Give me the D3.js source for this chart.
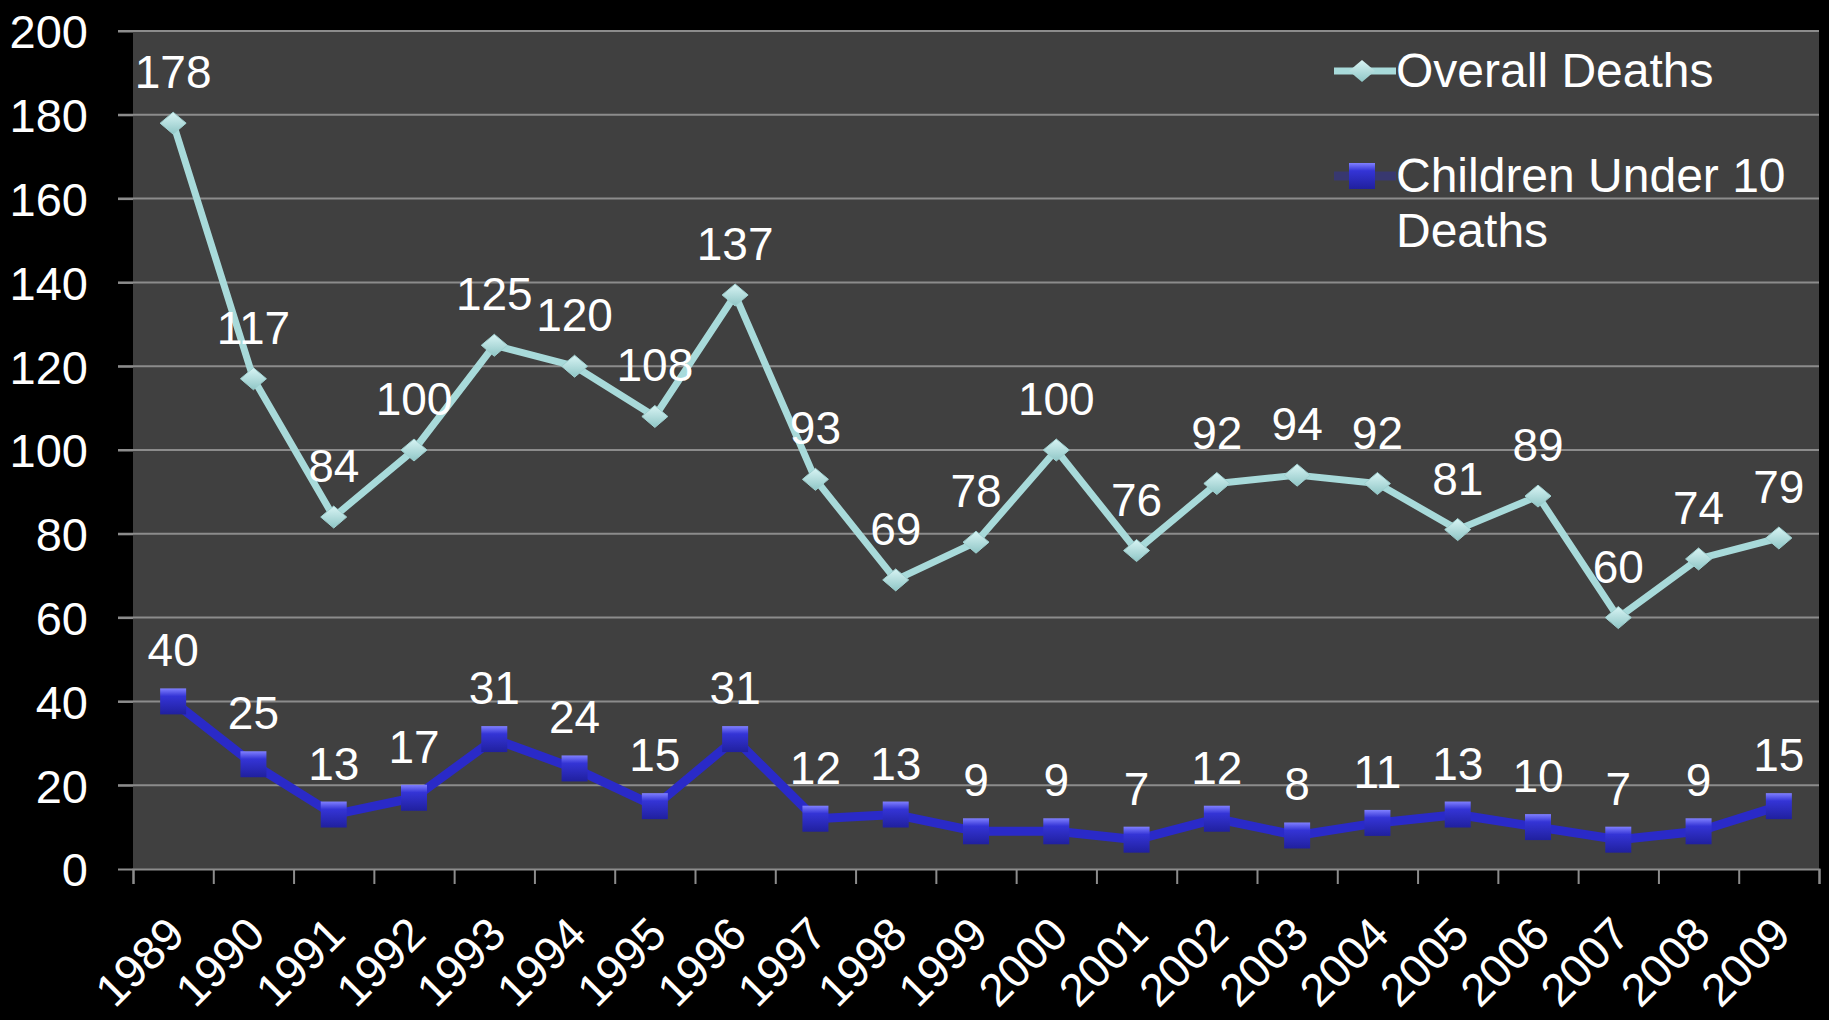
<!DOCTYPE html>
<html>
<head>
<meta charset="utf-8">
<script src="https://cdn.jsdelivr.net/npm/d3@7"></script>
<style>
  html, body { margin: 0; padding: 0; background: #000; }
  svg { display: block; }
  text { font-family: "Liberation Sans", Arial, sans-serif; fill: #fff; }
</style>
</head>
<body>
<div id="chart"></div>
<script>
const years = ["1989","1990","1991","1992","1993","1994","1995","1996","1997","1998","1999",
  "2000","2001","2002","2003","2004","2005","2006","2007","2008","2009"];
const overallDeaths = [178,117,84,100,125,120,108,137,93,69,78,100,76,92,94,92,81,89,60,74,79];
const childDeaths = [40,25,13,17,31,24,15,31,12,13,9,9,7,12,8,11,13,10,7,9,15];
const yTicks = [0,20,40,60,80,100,120,140,160,180,200];
const seriesNames = ["Overall Deaths", ["Children Under 10", "Deaths"]];

const width = 1829, height = 1020;
const margin = { top: 31, right: 10, bottom: 151, left: 133 };
const plotW = width - margin.left - margin.right;
const plotH = height - margin.top - margin.bottom;

const svg = d3.select("#chart").append("svg")
  .attr("width", width)
  .attr("height", height);

const defs = svg.append("defs");
const sqGrad = defs.append("linearGradient")
  .attr("id", "sqGrad").attr("x1", 0).attr("y1", 0).attr("x2", 0).attr("y2", 1);
sqGrad.append("stop").attr("offset", "0%").attr("stop-color", "#8080ff");
sqGrad.append("stop").attr("offset", "30%").attr("stop-color", "#3434d6");
sqGrad.append("stop").attr("offset", "100%").attr("stop-color", "#20209e");
const dmGrad = defs.append("linearGradient")
  .attr("id", "dmGrad").attr("x1", 0).attr("y1", 0).attr("x2", 0).attr("y2", 1);
dmGrad.append("stop").attr("offset", "0%").attr("stop-color", "#d8f4f4");
dmGrad.append("stop").attr("offset", "100%").attr("stop-color", "#8fc6c6");

const g = svg.append("g")
  .attr("transform", `translate(${margin.left},${margin.top})`);

const x = d3.scaleBand().domain(years).range([0, plotW]);
const y = d3.scaleLinear().domain([0, 200]).range([plotH, 0]);
const cx = (d) => x(d) + x.bandwidth() / 2;

// plot area
g.append("rect")
  .attr("width", plotW)
  .attr("height", plotH)
  .attr("fill", "#404040");

// gridlines
g.append("g")
  .selectAll("line")
  .data(yTicks.filter((d) => d > 0))
  .join("line")
  .attr("x1", -15)
  .attr("x2", plotW)
  .attr("y1", (d) => y(d))
  .attr("y2", (d) => y(d))
  .attr("stroke", "#8c8c8c")
  .attr("stroke-width", 2);

// y axis
const yAxis = g.append("g")
  .call(d3.axisLeft(y).tickValues(yTicks).tickSize(15).tickPadding(30));
yAxis.select(".domain").remove();
yAxis.selectAll(".tick line").attr("stroke", "#8c8c8c").attr("stroke-width", 2);
yAxis.selectAll(".tick text")
  .attr("fill", "#fff")
  .style("font-size", "47px")
  .attr("dy", "0.36em");

// x axis boundary ticks
const xEdge = d3.scaleLinear().domain([0, years.length]).range([0, plotW]);
const xTickAxis = g.append("g")
  .attr("transform", `translate(0,${plotH})`)
  .call(d3.axisBottom(xEdge).tickValues(d3.range(0, years.length + 1)).tickSize(15).tickFormat(""));
xTickAxis.select(".domain").attr("stroke", "#8c8c8c").attr("stroke-width", 2);
xTickAxis.selectAll(".tick line").attr("stroke", "#8c8c8c").attr("stroke-width", 2);

// x axis labels
const xAxis = g.append("g")
  .attr("transform", `translate(0,${plotH})`)
  .call(d3.axisBottom(x).tickSize(0).tickPadding(0));
xAxis.select(".domain").remove();
xAxis.selectAll(".tick text")
  .attr("fill", "#fff")
  .style("font-size", "46px")
  .attr("y", 0)
  .attr("dy", 0)
  .attr("text-anchor", "end")
  .attr("transform", "translate(14,68) rotate(-45)");

// lines
const line = (vals) => d3.line()
  .x((d, i) => cx(years[i]))
  .y((d) => y(d))(vals);

g.append("path")
  .attr("d", line(overallDeaths))
  .attr("fill", "none")
  .attr("stroke", "#a8dada")
  .attr("stroke-width", 7)
  .attr("stroke-linejoin", "round");

g.append("path")
  .attr("d", line(childDeaths))
  .attr("fill", "none")
  .attr("stroke", "#2a2ac8")
  .attr("stroke-width", 9)
  .attr("stroke-linejoin", "round");

// markers
const diamond = (w, h) => `M0,${-h / 2}L${w / 2},0L0,${h / 2}L${-w / 2},0Z`;

g.append("g")
  .selectAll("path")
  .data(overallDeaths)
  .join("path")
  .attr("transform", (d, i) => `translate(${cx(years[i])},${y(d)})`)
  .attr("d", diamond(26, 22))
  .attr("fill", "url(#dmGrad)")
  .attr("stroke", "#9fd0d0")
  .attr("stroke-width", 1);

g.append("g")
  .selectAll("rect")
  .data(childDeaths)
  .join("rect")
  .attr("x", (d, i) => cx(years[i]) - 13)
  .attr("y", (d) => y(d) - 13)
  .attr("width", 26)
  .attr("height", 26)
  .attr("fill", "url(#sqGrad)");

// data labels
g.append("g")
  .selectAll("text")
  .data(overallDeaths)
  .join("text")
  .attr("x", (d, i) => cx(years[i]))
  .attr("y", (d) => y(d) - 35)
  .attr("text-anchor", "middle")
  .style("font-size", "46px")
  .text((d) => d);

g.append("g")
  .selectAll("text")
  .data(childDeaths)
  .join("text")
  .attr("x", (d, i) => cx(years[i]))
  .attr("y", (d) => y(d) - 35)
  .attr("text-anchor", "middle")
  .style("font-size", "46px")
  .text((d) => d);

// legend
const legend = svg.append("g").attr("transform", "translate(1334,0)");
legend.append("line")
  .attr("x1", 0).attr("x2", 62).attr("y1", 71).attr("y2", 71)
  .attr("stroke", "#a8dada").attr("stroke-width", 7);
legend.append("path")
  .attr("transform", "translate(28,71)")
  .attr("d", diamond(26, 22))
  .attr("fill", "url(#dmGrad)");
legend.append("text")
  .attr("x", 62).attr("y", 87)
  .style("font-size", "48px")
  .text(seriesNames[0]);

legend.append("line")
  .attr("x1", 0).attr("x2", 62).attr("y1", 176).attr("y2", 176)
  .attr("stroke", "#2a2ac8").attr("stroke-width", 9).attr("opacity", 0.35);
legend.append("rect")
  .attr("x", 15).attr("y", 163).attr("width", 26).attr("height", 26)
  .attr("fill", "url(#sqGrad)");
legend.append("text")
  .attr("x", 62).attr("y", 192)
  .style("font-size", "48px")
  .selectAll("tspan")
  .data(seriesNames[1])
  .join("tspan")
  .attr("x", 62)
  .attr("dy", (d, i) => (i === 0 ? 0 : 55))
  .text((d) => d);
</script>
</body>
</html>
